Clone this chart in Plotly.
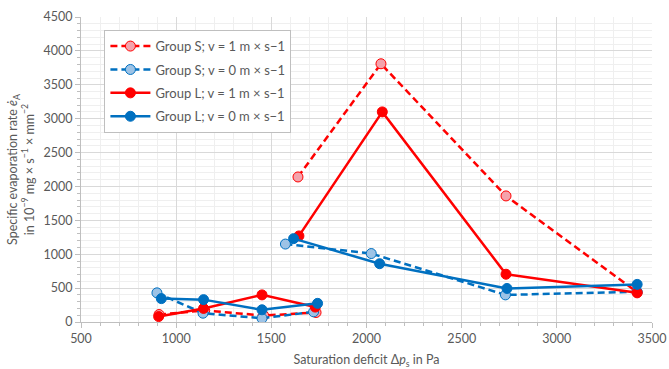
import plotly.graph_objects as go

# Data (None separates the low-deficit and high-deficit groups of measurements)
s_v1_x = [910, 1150, 1460, 1735, None, 1640, 2076, 2733, 3422]
s_v1_y = [110, 170, 95, 140, None, 2140, 3810, 1860, 440]

s_v0_x = [899, 1141, 1451, 1722, None, 1574, 2025, 2730, 3422]
s_v0_y = [430, 130, 55, 150, None, 1150, 1010, 400, 445]

l_v1_x = [908, 1144, 1451, 1731, None, 1645, 2083, 2733, 3422]
l_v1_y = [80, 200, 400, 220, None, 1270, 3100, 705, 430]

l_v0_x = [922, 1144, 1451, 1743, None, 1617, 2069, 2738, 3422]
l_v0_y = [345, 330, 180, 275, None, 1230, 860, 495, 555]

names = ["Group S; v = 1 m × s−1", "Group S; v = 0 m × s−1",
         "Group L; v = 1 m × s−1", "Group L; v = 0 m × s−1"]

y_title = ("Specific evaporation rate <i>ė</i><sub>A</sub><br>"
           "in 10<sup>−9</sup> mg × s<sup>−1</sup> × mm<sup>−2</sup>")
x_title = "Saturation deficit Δ<i>p</i><sub>s</sub> in Pa"

RED = "#FF0000"
BLUE = "#0070C0"
FONT = "Lato"
GRAY = "#595959"

fig = go.Figure()

def add(x, y, name, color, dash, fill, grp):
    fig.add_trace(go.Scatter(
        x=x, y=y, name=name, mode="lines+markers", connectgaps=False,
        legendgroup=grp,
        line=dict(color=color, width=2.5, dash=dash),
        marker=dict(size=10, color=fill, line=dict(color=color, width=1)),
    ))

add(s_v1_x, s_v1_y, names[0], RED, "7px,4px", "#F4A3AC", "a")
add(s_v0_x, s_v0_y, names[1], BLUE, "7px,4px", "#9DC3E6", "b")
add(l_v1_x, l_v1_y, names[2], RED, "solid", RED, "c")
add(l_v0_x, l_v0_y, names[3], BLUE, "solid", BLUE, "d")

axis_common = dict(
    showline=True, linecolor="#BFBFBF", linewidth=1,
    showgrid=True, gridcolor="#D9D9D9", gridwidth=1,
    ticks="outside", ticklen=5, tickcolor="#BFBFBF",
    tickfont=dict(family=FONT, size=12.5, color=GRAY),
    zeroline=False,
)

fig.update_layout(
    width=669, height=369,
    margin=dict(l=81, r=17, t=9, b=47),
    paper_bgcolor="white", plot_bgcolor="white",
    font=dict(family=FONT, color=GRAY),
    xaxis=dict(
        range=[500, 3500], dtick=500, tick0=500, automargin=False,
        minor=dict(dtick=100, showgrid=True, gridcolor="#EFEFEF",
                   ticks="outside", ticklen=3, tickcolor="#BFBFBF"),
        title=dict(text=x_title,
                   font=dict(family=FONT, size=12.5, color=GRAY), standoff=12),
        **axis_common,
    ),
    yaxis=dict(
        range=[0, 4500], dtick=500,
        minor=dict(dtick=100, showgrid=True, gridcolor="#EFEFEF",
                   ticks="outside", ticklen=3, tickcolor="#BFBFBF"),
        title=dict(text=y_title,
                   font=dict(family=FONT, size=12.5, color=GRAY), standoff=6),
        **axis_common,
    ),
    legend=dict(
        x=0.041, y=0.957, xanchor="left", yanchor="top",
        bgcolor="white", bordercolor="#BFBFBF", borderwidth=1,
        font=dict(family=FONT, size=13, color=GRAY),
        itemwidth=40, tracegroupgap=3.5,
    ),
    showlegend=True,
)

fig.write_html("out.html")
